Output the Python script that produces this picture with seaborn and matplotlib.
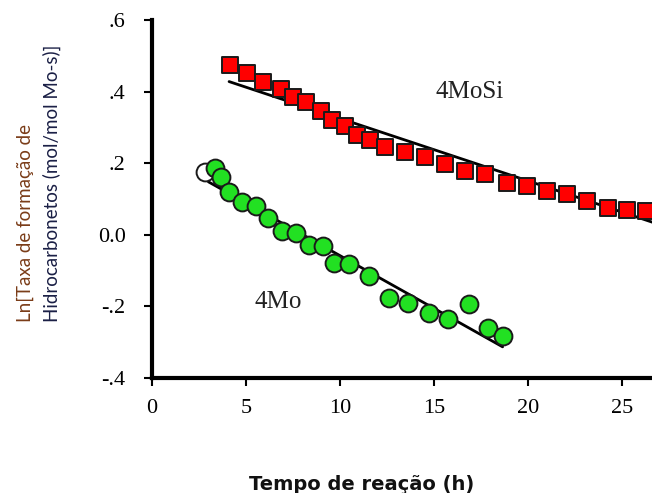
import numpy as np
import pandas as pd
import matplotlib
matplotlib.use("Agg")
import matplotlib.pyplot as plt
import seaborn as sns

# 4MoSi data (red squares)
mosi_t = [4.15, 5.07, 5.89, 6.86, 7.51, 8.19, 8.97, 9.56, 10.27, 10.92, 11.60, 12.39, 13.46,
          14.52, 15.59, 16.65, 17.71, 18.90, 19.93, 21.00, 22.06, 23.12, 24.27, 25.25, 26.30]
mosi_ln = [0.474, 0.451, 0.428, 0.407, 0.384, 0.370, 0.347, 0.321, 0.304, 0.279, 0.265, 0.246, 0.232,
           0.218, 0.197, 0.178, 0.169, 0.144, 0.135, 0.121, 0.113, 0.095, 0.075, 0.070, 0.066]

# 4Mo data (green circles); first point is an open circle
mo_open_t = [2.82]
mo_open_ln = [0.176]
mo_t = [3.35, 3.67, 4.11, 4.77, 5.53, 6.19, 6.90, 7.66, 8.37, 9.08, 9.70, 10.49, 11.56,
        12.62, 13.63, 14.75, 15.76, 16.88, 17.89, 18.69]
mo_ln = [0.186, 0.161, 0.119, 0.091, 0.081, 0.048, 0.011, 0.004, -0.028, -0.031, -0.078, -0.082, -0.114,
         -0.177, -0.191, -0.219, -0.235, -0.193, -0.261, -0.282]

# linear fits (end points)
mosi_fit_t = [4.1, 28.0]
mosi_fit_ln = [0.428, 0.011]
mo_fit_t = [3.0, 18.65]
mo_fit_ln = [0.148, -0.313]

xticks = [0, 5, 10, 15, 20, 25]
yticks = [0.6, 0.4, 0.2, 0.0, -0.2, -0.4]
ytick_labels = [".6", ".4", ".2", "0.0", "-.2", "-.4"]

sns.set_style("ticks")
serif = "Liberation Serif"

fig = plt.figure(figsize=(6.52, 4.93), dpi=100)
ax = fig.add_axes([152 / 652, 1 - 378 / 493, 1 - 152 / 652, (378 - 20) / 493])

sns.lineplot(x=mosi_fit_t, y=mosi_fit_ln, ax=ax, color="black", lw=2, zorder=2)
sns.lineplot(x=mo_fit_t, y=mo_fit_ln, ax=ax, color="black", lw=2, zorder=2)

sns.scatterplot(x=mosi_t, y=mosi_ln, ax=ax, marker="s", s=125, color="#ff0000",
                edgecolor="#1a1a1a", linewidth=1.4, zorder=3)
sns.scatterplot(x=mo_open_t, y=mo_open_ln, ax=ax, marker="o", s=165, color="white",
                edgecolor="#1a1a1a", linewidth=1.4, zorder=3)
sns.scatterplot(x=mo_t, y=mo_ln, ax=ax, marker="o", s=165, color="#22e022",
                edgecolor="#1a1a1a", linewidth=1.4, zorder=4)

ax.text(16.9, 0.40, "4MoSi", fontsize=18, family=serif, ha="center", va="center", color="#222222")
ax.text(6.7, -0.188, "4Mo", fontsize=18, family=serif, ha="center", va="center", color="#222222")

ax.set_xlim(0, (652 - 152) / 18.8)
ax.set_ylim(-0.4, 0.6)
ax.set_xticks(xticks)
ax.set_xticklabels([str(t) for t in xticks], family=serif, fontsize=16)
ax.set_yticks(yticks)
ax.set_yticklabels(ytick_labels, family=serif, fontsize=16)
ax.tick_params(axis="both", direction="out", length=6, width=1.5, colors="black")
ax.tick_params(axis="x", pad=9)
ax.tick_params(axis="y", pad=13)

sns.despine(ax=ax, top=True, right=True)
for side in ["left", "bottom"]:
    ax.spines[side].set_linewidth(3)
    ax.spines[side].set_color("black")

fig.text(362 / 652, 1 - 484 / 493, "Tempo de reação (h)", fontsize=14, fontweight="bold",
         family="DejaVu Sans", ha="center", va="center", color="#111111")

fig.text(25 / 652, 1 - 322 / 493, "Ln[Taxa de formação de", rotation=90, fontsize=13.5,
         family="Lato", ha="center", va="bottom", color="#7a3c18")
fig.text(52 / 652, 1 - 322 / 493, "Hidrocarbonetos (mol/mol Mo-s)]", rotation=90, fontsize=13.5,
         family="Lato", ha="center", va="bottom", color="#1a1f45")

fig.savefig("out.png", dpi=100)
